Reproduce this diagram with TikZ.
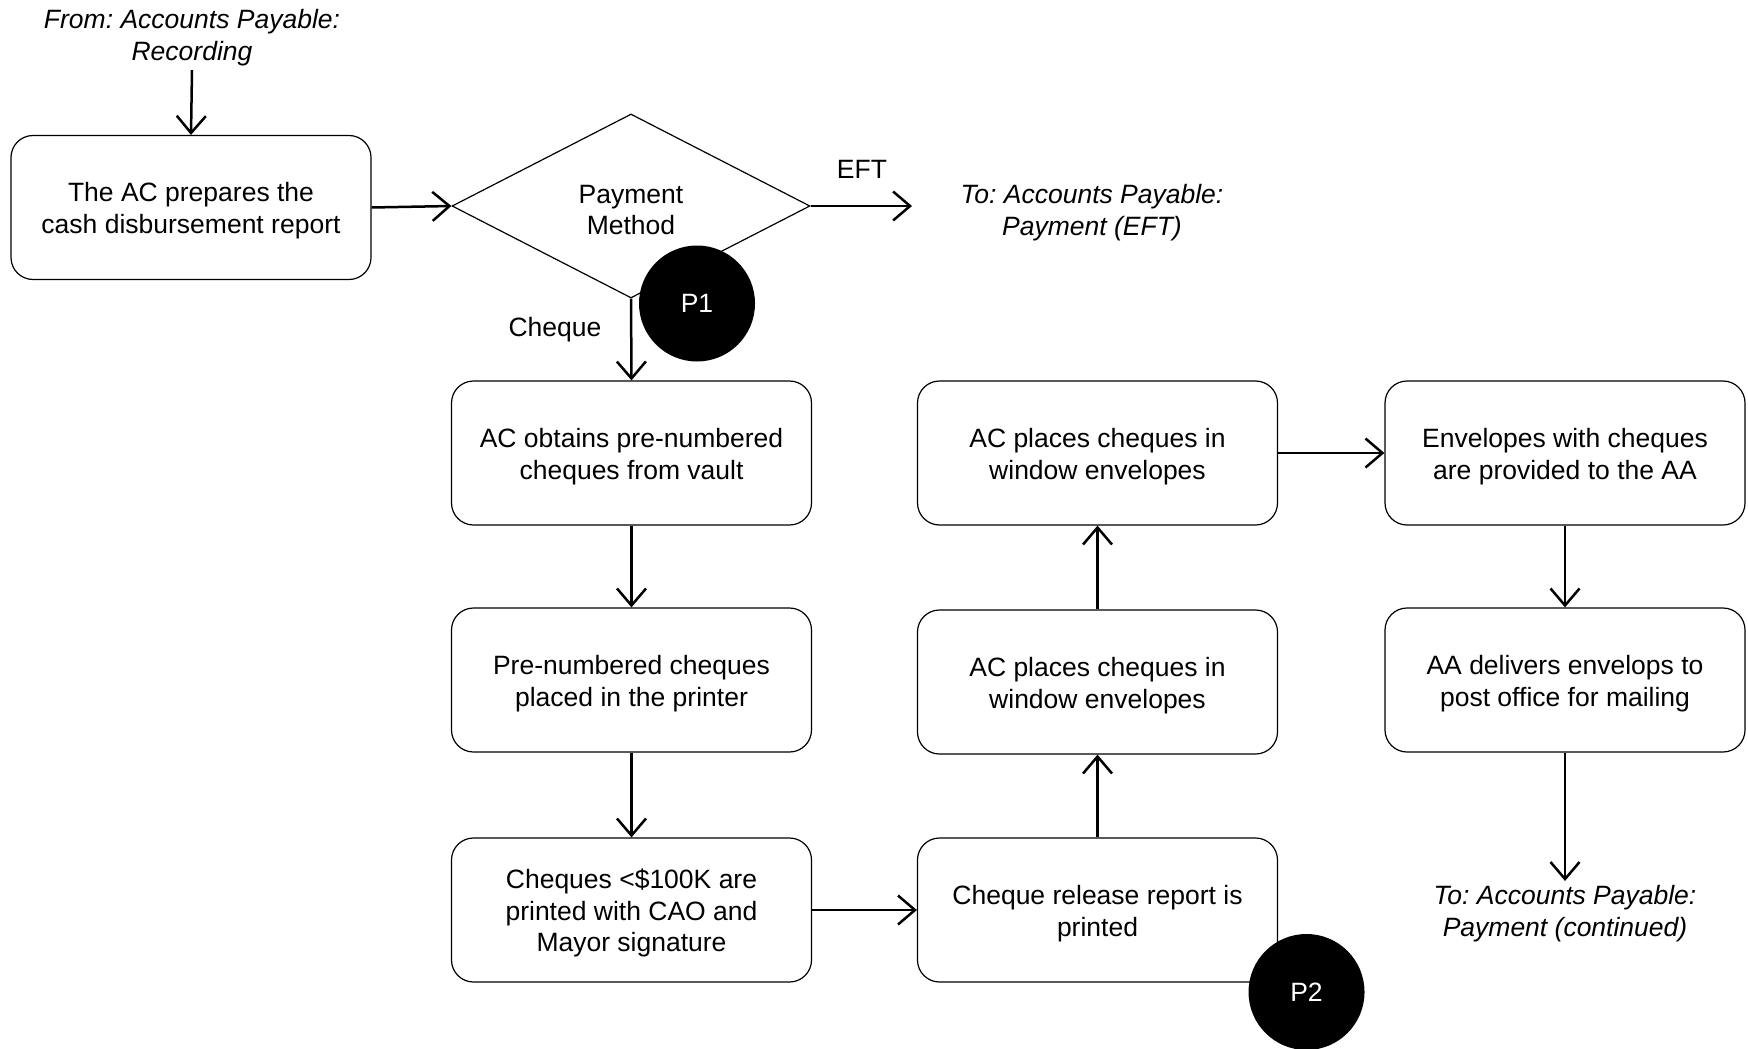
\documentclass[tikz,border=0pt]{standalone}
\usepackage{fontspec}
\setmainfont{Liberation Sans}
\usetikzlibrary{arrows.meta,shapes.geometric}
\frenchspacing
% a taller first line, so that box texts sit centred on their line boxes
\newcommand\topline{\rule{0pt}{13pt}}
\begin{document}
\begin{tikzpicture}[x=0.5pt,y=-0.5pt,
  every node/.style={font=\fontsize{13.25}{15.8}\selectfont},
  stepbox/.style={draw, line width=0.6pt, rounded corners=11pt, minimum width=180pt,
    minimum height=72pt, align=center, inner sep=0pt},
  decision/.style={draw, line width=0.6pt, diamond, aspect=1.95, minimum width=179pt,
    minimum height=92pt, align=center, inner sep=0pt},
  conn/.style={line width=1.25pt, -{Straight Barb[length=8.5pt,width=14.5pt]}},
  marker/.style={circle, fill=black, text=white, minimum size=58pt, inner sep=0pt},
  offpage/.style={align=center, font=\fontsize{13.25}{15.8}\selectfont\itshape, inner sep=2pt},
  tag/.style={inner sep=0pt}]
\useasboundingbox (0,0) rectangle (1748,1048);

% off-page references
\node[offpage] (from) at (192,37.5) {From: Accounts Payable:\\Recording};
\node[offpage] (toeft) at (1092,212.5) {To: Accounts Payable:\\Payment (EFT)};
\node[offpage] (tocont) at (1565,913.5) {To: Accounts Payable:\\Payment (continued)};

% process steps
\node[stepbox] (prep) at (191,207.5) {\topline The AC prepares the\\cash disbursement report};
\node[decision] (method) at (631,206) {\topline Payment\\Method};
\node[stepbox] (obtain) at (631.5,453) {\topline AC obtains pre-numbered\\cheques from vault};
\node[stepbox] (printer) at (631.5,680) {\topline Pre-numbered cheques\\placed in the printer};
\node[stepbox] (signed) at (631.5,910) {\topline Cheques <\$100K are\\printed with CAO and\\Mayor signature};
\node[stepbox] (release) at (1097.5,910) {\topline Cheque release report is\\printed};
\node[stepbox] (placeB) at (1097.5,682) {\topline AC places cheques in\\window envelopes};
\node[stepbox] (placeA) at (1097.5,453) {\topline AC places cheques in\\window envelopes};
\node[stepbox] (toaa) at (1565,453) {\topline Envelopes with cheques\\are provided to the AA};
\node[stepbox] (deliver) at (1565,680) {\topline AA delivers envelops to\\post office for mailing};

% branch labels and free end of the EFT branch
\node[tag] (eft) at (862,169) {EFT};
\node[tag] (cheque) at (555,329.5) {Cheque};
\coordinate (eftend) at (912,206);

% connectors
\draw[conn] (from.south) -- (prep.north);
\draw[conn] (prep.east) -- (method.west);
\draw[conn] (method.east) -- (eftend);
\draw[conn] (method.south) -- (obtain.north);
\draw[conn] (obtain) -- (printer);
\draw[conn] (printer) -- (signed);
\draw[conn] (signed) -- (release);
\draw[conn] (release) -- (placeB);
\draw[conn] (placeB) -- (placeA);
\draw[conn] (placeA) -- (toaa);
\draw[conn] (toaa) -- (deliver);
\draw[conn] (deliver.south) -- (tocont.north);

% control markers
\node[marker] (p1) at (697,303.5) {P1};
\node[marker] (p2) at (1306.5,992) {P2};
\end{tikzpicture}
\end{document}
